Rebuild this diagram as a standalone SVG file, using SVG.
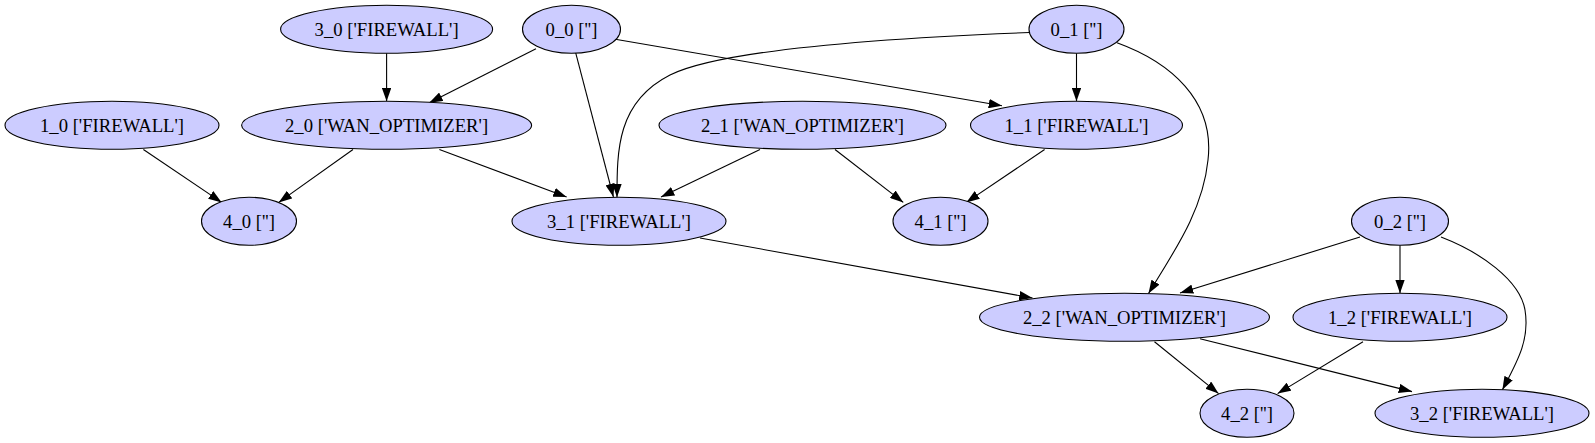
<svg xmlns="http://www.w3.org/2000/svg" width="1595" height="443" viewBox="0 0 1595 443">
<style>
.n ellipse{fill:#ccccff;stroke:#000;stroke-width:1.1}
.n text{font-family:"Liberation Serif","Times New Roman",serif;font-size:18.67px;text-anchor:middle;fill:#000}
.e path{fill:none;stroke:#000;stroke-width:1.1;marker-end:url(#ah)}
</style>
<defs>
<marker id="ah" markerUnits="userSpaceOnUse" markerWidth="13.33" markerHeight="9.33" viewBox="0 0 10 7" refX="10" refY="3.5" orient="auto"><path d="M0,0 L10,3.5 L0,7 z" fill="#000"/></marker>
</defs>
<rect width="1595" height="443" fill="#fff"/>
<g id="edges" class="e">
<path d="M386.6,53.3 L386.6,101.3"/>
<path d="M536,48.8 L429.3,102.7"/>
<path d="M575.7,52.9 L613.4,197"/>
<path d="M612.4,38.7 L1002,105.8"/>
<path d="M1029.5,32.5 C940,36 730,45 670,75 C617,102 617,150 617,197.3"/>
<path d="M1076.5,53.3 L1076.5,101.3"/>
<path d="M1117,42.7 C1170,62 1215,100 1208,160 C1203,210 1175,250 1148.5,293.5"/>
<path d="M143.4,149.5 L221.7,202.4"/>
<path d="M353,149.5 L278.7,202.4"/>
<path d="M439.4,149.5 L566.6,197"/>
<path d="M760,149.5 L661,197"/>
<path d="M835,149.5 L903.3,202.4"/>
<path d="M1044.6,149.5 L966.3,202.4"/>
<path d="M700,238 L1032.5,298"/>
<path d="M1360,237 L1180,293"/>
<path d="M1400,245.3 L1400,293.3"/>
<path d="M1441,237 C1480,252 1520,280 1525,310 C1530,340 1517,362 1502.4,389.8"/>
<path d="M1154.5,341.8 L1218.6,393.6"/>
<path d="M1200,338.7 L1412,391.6"/>
<path d="M1363,341.8 L1277.6,393.6"/>
</g>
<g id="n3_0" class="n"><ellipse cx="386.6" cy="29.3" rx="106" ry="24"/><text x="386.6" y="35.8">3_0 ['FIREWALL']</text></g>
<g id="n0_0" class="n"><ellipse cx="571.5" cy="29.3" rx="49" ry="24"/><text x="571.5" y="35.8">0_0 ['']</text></g>
<g id="n0_1" class="n"><ellipse cx="1076.5" cy="29.3" rx="47.5" ry="24"/><text x="1076.5" y="35.8">0_1 ['']</text></g>
<g id="n1_0" class="n"><ellipse cx="112" cy="125.3" rx="107" ry="24"/><text x="112" y="131.8">1_0 ['FIREWALL']</text></g>
<g id="n2_0" class="n"><ellipse cx="386.6" cy="125.3" rx="145" ry="24"/><text x="386.6" y="131.8">2_0 ['WAN_OPTIMIZER']</text></g>
<g id="n2_1" class="n"><ellipse cx="802.5" cy="125.3" rx="143.5" ry="24"/><text x="802.5" y="131.8">2_1 ['WAN_OPTIMIZER']</text></g>
<g id="n1_1" class="n"><ellipse cx="1076.5" cy="125.3" rx="106" ry="24"/><text x="1076.5" y="131.8">1_1 ['FIREWALL']</text></g>
<g id="n4_0" class="n"><ellipse cx="249" cy="221.3" rx="47.5" ry="24"/><text x="249" y="227.8">4_0 ['']</text></g>
<g id="n3_1" class="n"><ellipse cx="619" cy="221.3" rx="107" ry="24"/><text x="619" y="227.8">3_1 ['FIREWALL']</text></g>
<g id="n4_1" class="n"><ellipse cx="940.5" cy="221.3" rx="47.5" ry="24"/><text x="940.5" y="227.8">4_1 ['']</text></g>
<g id="n0_2" class="n"><ellipse cx="1400" cy="221.3" rx="48.5" ry="24"/><text x="1400" y="227.8">0_2 ['']</text></g>
<g id="n2_2" class="n"><ellipse cx="1124.5" cy="317.3" rx="145" ry="24"/><text x="1124.5" y="323.8">2_2 ['WAN_OPTIMIZER']</text></g>
<g id="n1_2" class="n"><ellipse cx="1400" cy="317.3" rx="107" ry="24"/><text x="1400" y="323.8">1_2 ['FIREWALL']</text></g>
<g id="n4_2" class="n"><ellipse cx="1247" cy="413.3" rx="47" ry="24"/><text x="1247" y="419.8">4_2 ['']</text></g>
<g id="n3_2" class="n"><ellipse cx="1482" cy="413.3" rx="107" ry="24"/><text x="1482" y="419.8">3_2 ['FIREWALL']</text></g>
</svg>
